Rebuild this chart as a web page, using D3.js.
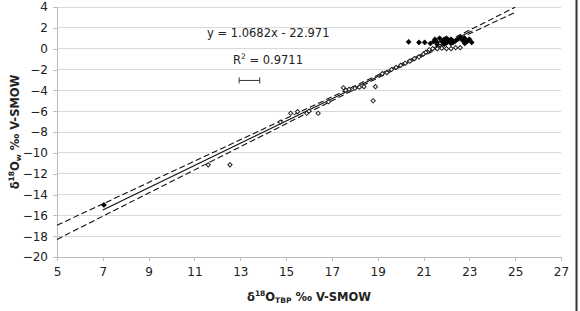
<!DOCTYPE html>
<html><head><meta charset="utf-8">
<script src="https://cdn.jsdelivr.net/npm/d3@7"></script>
<style>
html,body{margin:0;padding:0;background:#fff;}
svg{display:block;font-family:"DejaVu Sans",Verdana,sans-serif;}
</style></head>
<body>
<svg id="chart" width="580" height="311"></svg>
<script>
// ---- data ----
const xTicks = [5, 7, 9, 11, 13, 15, 17, 19, 21, 23, 25, 27];
const yTicks = [4, 2, 0, -2, -4, -6, -8, -10, -12, -14, -16, -18, -20];

// filled diamonds
const filledX = [7.05, 20.35, 20.8, 21.05, 21.3, 21.5, 21.6, 21.7, 21.8, 21.9, 22.0, 22.0, 22.1, 22.2, 22.3, 21.6, 21.9, 22.2, 22.5, 22.6, 22.7, 22.8, 22.9, 23.0, 23.1, 22.8, 21.45, 22.4];
const filledY = [-15.0, 0.65, 0.6, 0.6, 0.5, 0.9, 0.6, 1.0, 0.7, 0.9, 0.6, 1.0, 0.8, 0.9, 0.6, 0.4, 0.45, 0.5, 0.9, 1.1, 0.8, 1.0, 0.7, 0.9, 0.6, 0.5, 0.7, 0.75];

// open diamonds
const openX = [11.6, 12.55, 14.75, 15.2, 15.5, 15.9, 16.0, 16.4, 16.85, 17.5, 17.6, 17.75, 17.9, 18.0, 18.2, 18.4, 18.8, 18.9,
               19.2, 19.4, 19.6, 19.8, 20.0, 20.2, 20.4, 20.6, 20.8, 21.0, 21.2,
               21.1, 21.25, 21.4, 21.6, 21.8, 22.0, 22.2, 22.4, 22.6];
const openY = [-11.15, -11.15, -7.05, -6.2, -6.05, -6.2, -6.0, -6.2, -5.1, -3.75, -4.0, -3.9, -3.85, -3.8, -3.7, -3.65, -5.0, -3.65,
               -2.4, -2.3, -2.0, -1.8, -1.6, -1.4, -1.2, -0.95, -0.8, -0.5, -0.3,
               -0.35, -0.1, 0.0, 0.0, 0.05, 0.0, 0.0, 0.1, 0.1];

// regression y = 1.0682x - 22.971 (solid) and its confidence band (dashed)
const fitX = [7, 23.1];
const fitY = [-15.49, 1.70];
const bandX = [5, 9, 13, 17, 20, 23, 25];
const bandUpper = [-16.95, -12.85, -8.75, -4.63, -1.49, 1.77, 3.98];
const bandLower = [-18.31, -13.86, -9.42, -5.00, -1.73, 1.43, 3.49];

// analytical error bar
const errX = [13.4];
const errY = [-3.05];
const errHalf = [0.45];

const eqText = "y = 1.0682x - 22.971";
const r2Value = "0.9711";

// ---- drawing ----
const svg = d3.select("#chart");
svg.append("rect").attr("width", 580).attr("height", 311).attr("fill", "#fff");

const mLeft = 57, mRight = 561, mTop = 7, mBottom = 257;
const x = d3.scaleLinear().domain([5, 27]).range([mLeft, mRight]);
const y = d3.scaleLinear().domain([-20, 4]).range([mBottom, mTop]);

// gridlines
svg.append("g").selectAll("line").data(yTicks.filter(d => d !== -20)).join("line")
  .attr("x1", mLeft).attr("x2", mRight)
  .attr("y1", d => y(d)).attr("y2", d => y(d))
  .attr("stroke", "#d9d9d9").attr("stroke-width", 1).attr("shape-rendering", "crispEdges");

// y axis
const yAxis = svg.append("g").attr("transform", `translate(${mLeft},0)`)
  .call(d3.axisLeft(y).tickValues(yTicks).tickSize(4).tickPadding(5).tickFormat(d3.format("d")));
yAxis.select(".domain").attr("stroke", "#bdbdbd");
yAxis.selectAll(".tick line").attr("stroke", "#bdbdbd");
yAxis.selectAll(".tick text").attr("font-size", 12).attr("fill", "#222").attr("font-family", "DejaVu Sans");

// x axis
const xAxis = svg.append("g").attr("transform", `translate(0,${mBottom})`)
  .call(d3.axisBottom(x).tickValues(xTicks).tickSize(4).tickPadding(6).tickFormat(d3.format("d")));
xAxis.select(".domain").attr("stroke", "#bdbdbd");
xAxis.selectAll(".tick line").attr("stroke", "#bdbdbd");
xAxis.selectAll(".tick text").attr("font-size", 12).attr("fill", "#222").attr("font-family", "DejaVu Sans");
xAxis.selectAll("path,line").attr("shape-rendering", "crispEdges");
yAxis.selectAll("path,line").attr("shape-rendering", "crispEdges");

// band lines
const line = d3.line().x(d => x(d[0])).y(d => y(d[1]));
[bandUpper, bandLower].forEach(arr => {
  svg.append("path").datum(bandX.map((v, i) => [v, arr[i]]))
    .attr("d", line).attr("fill", "none").attr("stroke", "#111")
    .attr("stroke-width", 1.1).attr("stroke-dasharray", "6,3");
});
svg.append("path").datum(fitX.map((v, i) => [v, fitY[i]]))
  .attr("d", line).attr("fill", "none").attr("stroke", "#111").attr("stroke-width", 1.2);

// points (diamonds = rotated squares)
const sq = d3.symbol().type(d3.symbolSquare);
svg.append("g").selectAll("path").data(openX.map((v, i) => [v, openY[i]])).join("path")
  .attr("transform", d => `translate(${x(d[0])},${y(d[1])}) rotate(45)`)
  .attr("d", sq.size(9)()).attr("fill", "#fff").attr("stroke", "#222").attr("stroke-width", 1);
svg.append("g").selectAll("path").data(filledX.map((v, i) => [v, filledY[i]])).join("path")
  .attr("transform", d => `translate(${x(d[0])},${y(d[1])}) rotate(45)`)
  .attr("d", sq.size(13)()).attr("fill", "#000").attr("stroke", "#000").attr("stroke-width", 0.6);

// error bar
const eg = svg.append("g").attr("stroke", "#333").attr("stroke-width", 1);
errX.forEach((v, i) => {
  const x0 = x(v - errHalf[i]), x1 = x(v + errHalf[i]), yy = y(errY[i]);
  eg.append("line").attr("x1", x0).attr("x2", x1).attr("y1", yy).attr("y2", yy);
  eg.append("line").attr("x1", x0).attr("x2", x0).attr("y1", yy - 3).attr("y2", yy + 3);
  eg.append("line").attr("x1", x1).attr("x2", x1).attr("y1", yy - 3).attr("y2", yy + 3);
});

// equation annotations
svg.append("text").attr("x", 207).attr("y", 37).attr("font-size", 11.5).attr("fill", "#222").text(eqText);
const r2 = svg.append("text").attr("x", 233).attr("y", 64).attr("font-size", 11.5).attr("fill", "#222");
r2.append("tspan").text("R");
r2.append("tspan").attr("font-size", 7.5).attr("dy", -5).text("2");
r2.append("tspan").attr("dy", 5).text(" = " + r2Value);

// axis titles
const xt = svg.append("text").attr("x", 309).attr("y", 301).attr("text-anchor", "middle")
  .attr("font-size", 11.5).attr("font-weight", "bold").attr("fill", "#222");
xt.append("tspan").text("δ");
xt.append("tspan").attr("font-size", 7.5).attr("dy", -5).text("18");
xt.append("tspan").attr("dy", 5).text("O");
xt.append("tspan").attr("font-size", 7.5).attr("dy", 2).text("TBP");
xt.append("tspan").attr("dy", -2).text(" ‰ V-SMOW");

const yt = svg.append("text").attr("transform", "translate(19,132) rotate(-90)").attr("text-anchor", "middle")
  .attr("font-size", 11.5).attr("font-weight", "bold").attr("fill", "#222");
yt.append("tspan").text("δ");
yt.append("tspan").attr("font-size", 7.5).attr("dy", -5).text("18");
yt.append("tspan").attr("dy", 5).text("O");
yt.append("tspan").attr("font-size", 7.5).attr("dy", 2).text("w");
yt.append("tspan").attr("dy", -2).text(" ‰ V-SMOW");

// right frame edge
svg.append("line").attr("x1", 576.5).attr("x2", 576.5).attr("y1", 0).attr("y2", 311)
  .attr("stroke", "#333").attr("stroke-width", 2);
</script>
</body></html>
